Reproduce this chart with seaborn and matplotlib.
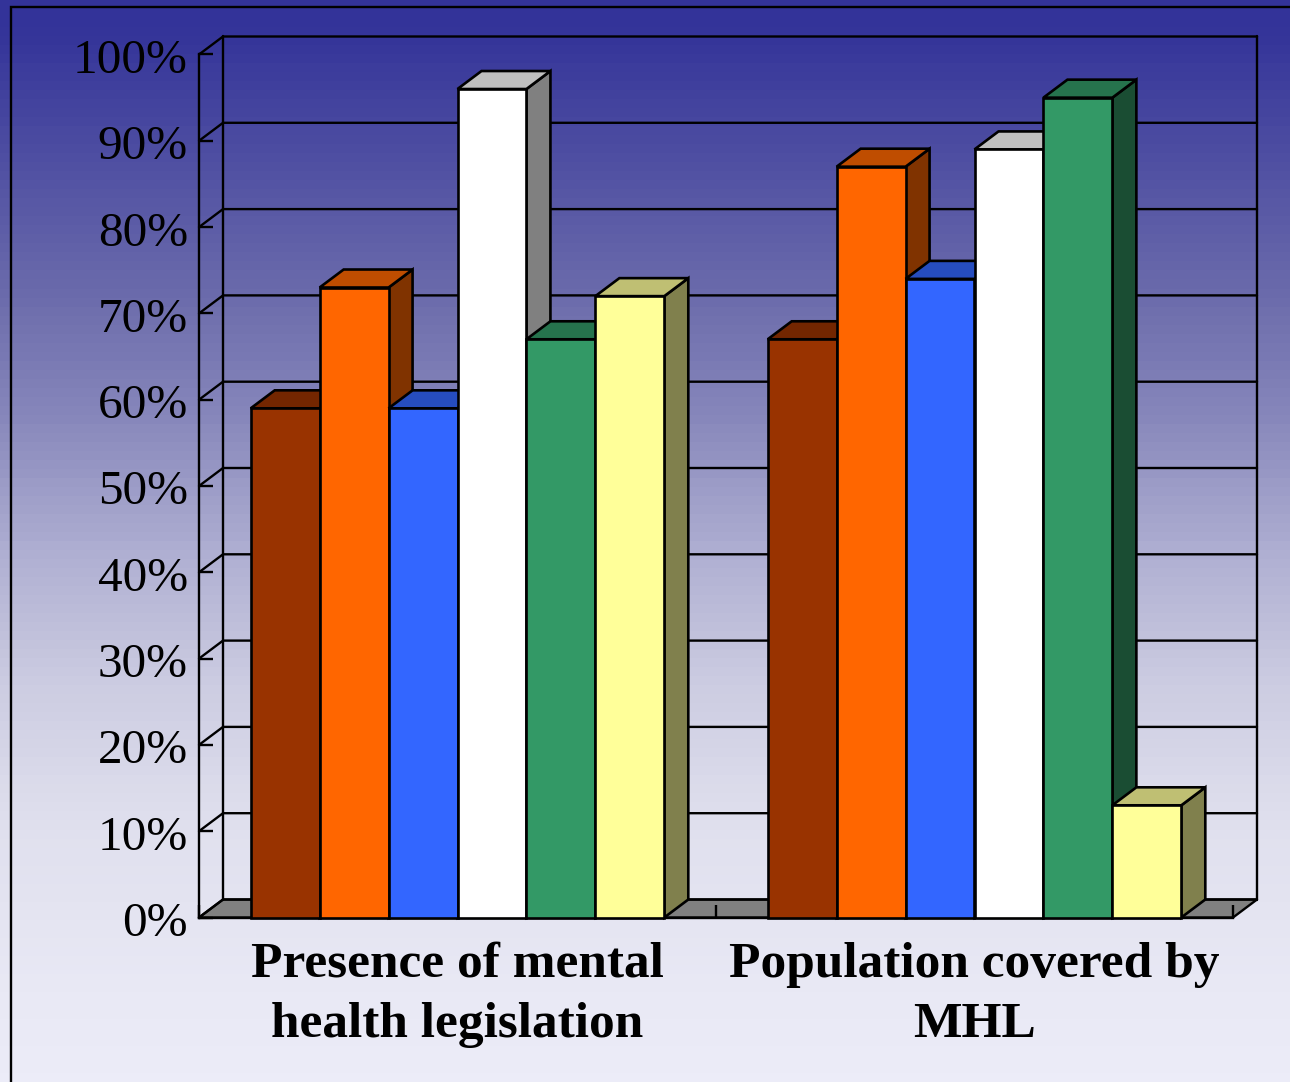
import numpy as np
import pandas as pd
import matplotlib
matplotlib.use("Agg")
import matplotlib.pyplot as plt
from matplotlib.colors import LinearSegmentedColormap, to_rgb
from matplotlib.patches import Polygon
from matplotlib.ticker import PercentFormatter
from matplotlib.transforms import ScaledTranslation
import seaborn as sns

# Chart data
measures = ["Presence of mental\nhealth legislation", "Population covered by\nMHL"]
series_names = ["Series 1", "Series 2", "Series 3", "Series 4", "Series 5", "Series 6"]
presence_values = [59, 73, 59, 96, 67, 72]
population_values = [67, 87, 74, 89, 95, 13]
series_colors = ["#993300", "#FF6600", "#3366FF", "#FFFFFF", "#339966", "#FFFF99"]
y_ticks = list(range(0, 101, 10))

# Layout, in pixels of the 1290x1082 canvas
WIDTH, HEIGHT = 1290, 1082
PLOT_LEFT, PLOT_RIGHT = 199, 1233
PLOT_TOP, PLOT_BOTTOM = 54.5, 917.5
DEPTH_X, DEPTH_Y = 24, 18
LINE = 1.7
EDGE = 1.9
SERIF = "Liberation Serif"

# Backdrop colour stops: canvas row and RGB value
gradient_rows = [0, 20, 295, 414, 552, 690, 828, 1000, 1082]
gradient_rgb = [
    (51, 51, 153), (51, 51, 153), (108, 108, 172), (135, 135, 187), (175, 175, 210),
    (205, 205, 226), (224, 224, 238), (233, 233, 245), (236, 236, 248),
]

df = pd.DataFrame({
    "measure": np.repeat(measures, len(series_names)),
    "series": series_names * len(measures),
    "share": presence_values + population_values,
})

sns.set_theme(style="white")
fig = plt.figure(figsize=(WIDTH / 100, HEIGHT / 100), dpi=100)

# Backdrop: banded vertical gradient with a thin frame
bg = fig.add_axes([0, 0, 1, 1], zorder=0)
ramp = LinearSegmentedColormap.from_list(
    "backdrop",
    [(row / HEIGHT, tuple(c / 255 for c in rgb)) for row, rgb in zip(gradient_rows, gradient_rgb)],
)
bg.imshow(np.linspace(0, 1, 120)[:, None], cmap=ramp, aspect="auto",
          extent=(0, WIDTH, HEIGHT, 0), interpolation="nearest")
bg.plot([11, 11, WIDTH], [HEIGHT, 7, 7], color="black", lw=LINE, solid_joinstyle="miter")
bg.set_xlim(0, WIDTH)
bg.set_ylim(HEIGHT, 0)
bg.axis("off")

ax = fig.add_axes([
    PLOT_LEFT / WIDTH,
    1 - PLOT_BOTTOM / HEIGHT,
    (PLOT_RIGHT - PLOT_LEFT) / WIDTH,
    (PLOT_BOTTOM - PLOT_TOP) / HEIGHT,
], zorder=1)
ax.patch.set_visible(False)

sns.barplot(
    data=df, x="measure", y="share", hue="series", hue_order=series_names,
    palette=series_colors, saturation=1, width=0.8, gap=0, legend=False,
    edgecolor="black", linewidth=EDGE, ax=ax,
)

xmin, xmax = -0.5, 1.5
ymin, ymax = 0, 100
ax.set_xlim(xmin, xmax)
ax.set_ylim(ymin, ymax)
ax.autoscale(False)

# Receding depth expressed in data units
dx = DEPTH_X * (xmax - xmin) / (PLOT_RIGHT - PLOT_LEFT)
dy = DEPTH_Y * (ymax - ymin) / (PLOT_BOTTOM - PLOT_TOP)

# Floor
ax.add_patch(Polygon(
    [(xmin, ymin), (xmax, ymin), (xmax + dx, ymin + dy), (xmin + dx, ymin + dy)],
    closed=True, facecolor="#808080", edgecolor="black", lw=LINE, clip_on=False, zorder=1,
))

# Back wall gridlines with their connectors to the front axis
for v in y_ticks:
    ax.plot([xmin, xmin + dx, xmax + dx], [v, v + dy, v + dy],
            color="black", lw=LINE, clip_on=False, zorder=1.2, solid_joinstyle="miter")
ax.plot([xmin + dx, xmin + dx], [ymin + dy, ymax + dy], color="black", lw=LINE, clip_on=False, zorder=1.2)
ax.plot([xmax + dx, xmax + dx], [ymin + dy, ymax + dy], color="black", lw=LINE, clip_on=False, zorder=1.2)


def shade(color, factor):
    return tuple(c * factor for c in to_rgb(color))


# Extrude every bar, painting from left to right so nearer neighbours overlap
bars = [(b, c) for container, c in zip(ax.containers, series_colors) for b in container]
bars.sort(key=lambda item: item[0].get_x())
for i, (bar, color) in enumerate(bars):
    x0 = bar.get_x()
    x1 = x0 + bar.get_width()
    h = bar.get_height()
    base = 3 + i
    ax.add_patch(Polygon(
        [(x1, 0), (x1 + dx, dy), (x1 + dx, h + dy), (x1, h)],
        closed=True, facecolor=shade(color, 0.5), edgecolor="black", lw=EDGE,
        clip_on=False, zorder=base, joinstyle="miter",
    ))
    ax.add_patch(Polygon(
        [(x0, h), (x1, h), (x1 + dx, h + dy), (x0 + dx, h + dy)],
        closed=True, facecolor=shade(color, 0.75), edgecolor="black", lw=EDGE,
        clip_on=False, zorder=base + 0.1, joinstyle="miter",
    ))
    bar.set_zorder(base + 0.2)
    bar.set_clip_on(False)

# Axes furniture
for side in ("top", "right"):
    ax.spines[side].set_visible(False)
for side in ("left", "bottom"):
    ax.spines[side].set_linewidth(LINE)
    ax.spines[side].set_color("black")
ax.set_axisbelow(False)
ax.set_xlabel("")
ax.set_ylabel("")

ax.set_yticks(y_ticks)
ax.yaxis.set_major_formatter(PercentFormatter(100, decimals=0))
ax.tick_params(axis="y", which="major", left=True, direction="in", length=10, width=LINE,
               color="black", pad=8, labelsize=35.5, labelcolor="black")
for label in ax.get_yticklabels():
    label.set_fontfamily(SERIF)
    # Sit the figures a little below their tick
    label.set_transform(label.get_transform() + ScaledTranslation(0, -1.5 / 100, fig.dpi_scale_trans))

ax.set_xticks([-0.5, 0.5, 1.5], labels=["", "", ""])
ax.set_xticks([0, 1], labels=measures, minor=True)
ax.tick_params(axis="x", which="major", bottom=True, direction="in", length=9.5, width=LINE, color="black")
ax.tick_params(axis="x", which="minor", bottom=False, length=0, pad=17.5, labelsize=37, labelcolor="black")
for label in ax.get_xticklabels(minor=True):
    label.set_fontfamily(SERIF)
    label.set_fontweight("bold")
    label.set_linespacing(1.4)

fig.savefig("out.png", dpi=100)
